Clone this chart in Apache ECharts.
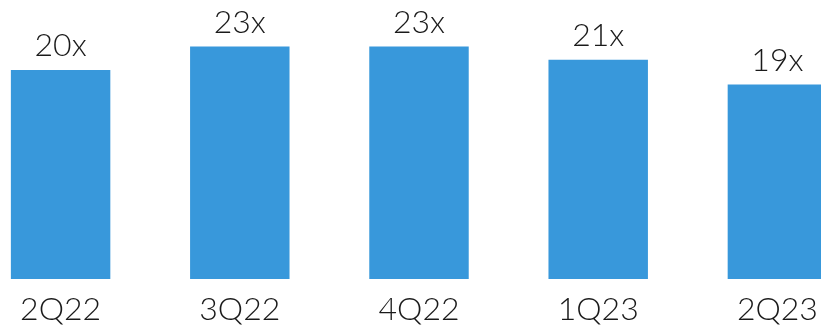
<!DOCTYPE html>
<html lang="en" style="height: 100%">
<head>
  <meta charset="utf-8">
  <script type="text/javascript" src="https://cdn.jsdelivr.net/npm/echarts@6/dist/echarts.min.js"></script>
</head>
<body style="height: 100%; margin: 0; background: #fff">
  <div id="bar" style="height: 325px; width: 821px"></div>

  <script type="text/javascript">
    var quarters = ['2Q22', '3Q22', '4Q22', '1Q23', '2Q23'];
    var multiples = [20.4, 22.7, 22.7, 21.4, 19.0];

    var chart = echarts.init(document.getElementById('bar'));

    var option = {
      animation: false,
      grid: {
        left: -29,
        right: -46,
        top: 23,
        bottom: 46,
        containLabel: false,
        outerBoundsMode: 'none'
      },
      xAxis: {
        type: 'category',
        data: quarters,
        axisLine: { show: false },
        axisTick: { show: false },
        axisLabel: {
          margin: 15,
          color: '#1a1a1a',
          fontSize: 32,
          fontWeight: 300,
          fontFamily: 'Lato'
        }
      },
      yAxis: {
        type: 'value',
        min: 0,
        max: 25,
        show: false
      },
      series: [
        {
          type: 'bar',
          data: multiples,
          barWidth: '55.5%',
          itemStyle: { color: '#3898db' },
          label: {
            show: true,
            position: 'top',
            distance: 8,
            color: '#1a1a1a',
            fontSize: 32,
            fontWeight: 300,
            fontFamily: 'Lato',
            formatter: function (p) {
              return Math.round(p.value) + 'x';
            }
          }
        }
      ]
    };

    chart.setOption(option);
  </script>
</body>
</html>
